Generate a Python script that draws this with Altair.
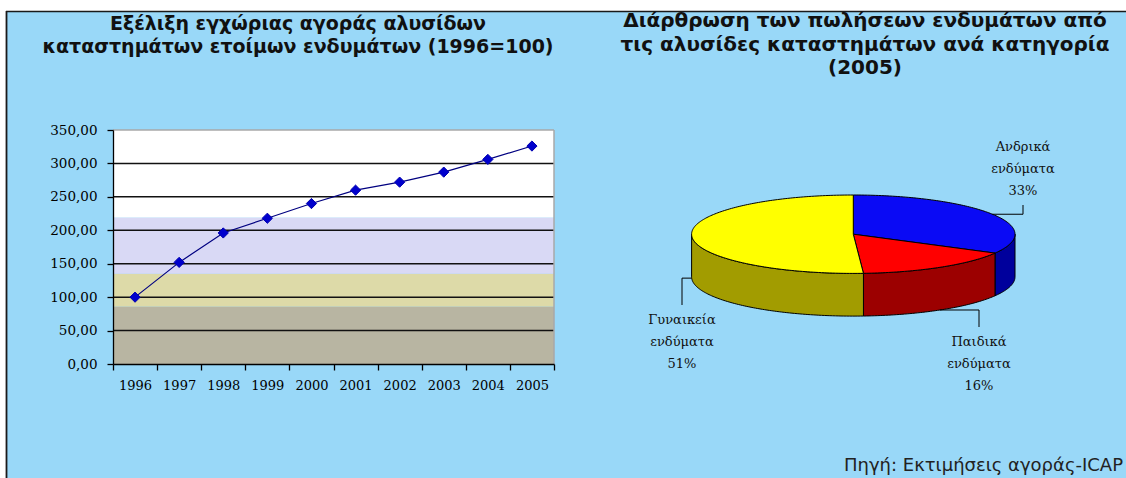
import math
import altair as alt
import pandas as pd

# ---------------- data ----------------
YEARS = ["1996", "1997", "1998", "1999", "2000", "2001", "2002", "2003", "2004", "2005"]
INDEX_VALUES = [100, 152, 196, 218, 240, 260, 272, 287, 306, 326]
Y_TICKS = [0, 50, 100, 150, 200, 250, 300, 350]
GRID_VALUES = [50, 100, 150, 200, 250, 300]
BAND_NAMES = ["low", "mid", "upper", "top"]
BAND_START = [0, 86, 135, 219]
BAND_END = [86, 135, 219, 350]

PIE_CATEGORIES = ["Ανδρικά", "Παιδικά", "Γυναικεία"]
PIE_SHARES = [33, 16, 51]
PIE_SUFFIX = "ενδύματα"

TITLE_LEFT = "Εξέλιξη εγχώριας αγοράς αλυσίδων\nκαταστημάτων ετοίμων ενδυμάτων (1996=100)"
TITLE_RIGHT = "Διάρθρωση των πωλήσεων ενδυμάτων από\nτις αλυσίδες καταστημάτων ανά κατηγορία\n(2005)"
SOURCE = "Πηγή: Εκτιμήσεις αγοράς-ICAP"

# ---------------- layout / style ----------------
CANVAS_W, CANVAS_H = 1126, 478
OX, OY = 113, 130          # plot-area origin (absolute px)
W, H = 441, 234            # plot-area size
BG = "#99D8F8"
BAND_COLORS = ["#B8B5A2", "#DDDAA8", "#D9D9F5", "#FFFFFF"]

# 3D pie geometry (absolute px)
CX, CY, RX, RY, DEPTH = 853.3, 234.2, 161.7, 39.2, 42.7
D_UNITS = DEPTH / RY
TOP_COLORS = ["#0A0AF5", "#FF0000", "#FFFF00"]
WALL_COLORS = ["#00009C", "#9C0000", "#A29C00"]
# label centre x, first-line centre y, leader end y (absolute px)
LABEL_POS = [(1023, 147, 205), (979, 342, 327), (682, 320, 305)]

SERIF = "DejaVu Serif"
SANS = "DejaVu Sans"


def ux(px):
    return (px - CX) / RX


def uy(py):
    return (CY - py) / RY


one = pd.DataFrame({"k": [0]})


def deco_rect(x0, x1, y0, y1, color):
    return alt.Chart(one).mark_rect(color=color, strokeWidth=0).encode(
        x=alt.value(x0 - OX), x2=alt.value(x1 - OX),
        y=alt.value(y0 - OY), y2=alt.value(y1 - OY))


def deco_rule(x0, x1, y0, y1, color, w):
    return alt.Chart(one).mark_rule(color=color, strokeWidth=w).encode(
        x=alt.value(x0 - OX), x2=alt.value(x1 - OX),
        y=alt.value(y0 - OY), y2=alt.value(y1 - OY))


def deco_text(text, x, y, size, weight="normal", align="center", font=SANS, lh=23.5, color="#111111"):
    return alt.Chart(one).mark_text(
        text=text, lineBreak="\n", lineHeight=lh, font=font, fontSize=size,
        fontWeight=weight, align=align, baseline="middle", color=color,
    ).encode(x=alt.value(x - OX), y=alt.value(y - OY))


# ---------------- line chart ----------------
yscale = alt.Scale(domain=[0, 350], nice=False, zero=True)
yaxis = alt.Axis(
    values=Y_TICKS, labelExpr="replace(format(datum.value, '.2f'), '.', ',')",
    title=None, grid=False, domainColor="black", domainWidth=1.3,
    tickColor="black", tickSize=6, tickWidth=1.3, labelPadding=10,
    labelFont=SERIF, labelFontSize=13.5, labelColor="black", zindex=1)
xscale = alt.Scale(type="band", domain=YEARS, paddingInner=0, paddingOuter=0)
xaxis = alt.Axis(
    title=None, labelAngle=0, tickBand="extent", grid=False,
    domainColor="black", domainWidth=1.3, tickColor="black", tickSize=6,
    tickWidth=1.3, labelPadding=9, labelFont=SERIF, labelFontSize=13,
    labelColor="black", zindex=1)

bands_df = pd.DataFrame({"band": BAND_NAMES, "start": BAND_START, "end": BAND_END})
bands = alt.Chart(bands_df).mark_rect(strokeWidth=0).encode(
    x=alt.value(0), x2=alt.value(W),
    y=alt.Y("start:Q", scale=yscale, axis=yaxis), y2="end:Q",
    color=alt.Color("band:N", scale=alt.Scale(domain=BAND_NAMES, range=BAND_COLORS), legend=None),
)
grid = alt.Chart(pd.DataFrame({"v": GRID_VALUES})).mark_rule(color="#111111", strokeWidth=1.5).encode(
    y=alt.Y("v:Q", scale=yscale, axis=yaxis), x=alt.value(0), x2=alt.value(W))

series = pd.DataFrame({"year": YEARS, "value": INDEX_VALUES})
line = alt.Chart(series).mark_line(color="#000080", strokeWidth=1.2).encode(
    x=alt.X("year:O", scale=xscale, axis=xaxis),
    y=alt.Y("value:Q", scale=yscale, axis=yaxis))
points = alt.Chart(series).mark_point(
    shape="diamond", filled=True, size=105, color="#0000CD", opacity=1,
    stroke="#0000B0", strokeWidth=1).encode(
    x=alt.X("year:O", scale=xscale, axis=xaxis),
    y=alt.Y("value:Q", scale=yscale, axis=yaxis))

border_top = alt.Chart(one).mark_rule(color="#A8A8A8", strokeWidth=1.5).encode(
    x=alt.value(0), x2=alt.value(W), y=alt.value(0))
border_right = alt.Chart(one).mark_rule(color="#A8A8A8", strokeWidth=1.5).encode(
    x=alt.value(W), y=alt.value(0), y2=alt.value(H))

left_group = alt.layer(bands, grid, border_top, border_right, line, points)

# ---------------- 3D pie ----------------
tops, walls, leaders, labels = [], [], [], []
start = 90.0
for i, (cat, share) in enumerate(zip(PIE_CATEGORIES, PIE_SHARES)):
    end = start - share * 3.6
    n = max(2, int(math.ceil(start - end)))
    pts = [(0.0, 0.0)]
    for k in range(n + 1):
        t = math.radians(start - (start - end) * k / n)
        pts.append((math.cos(t), math.sin(t)))
    pts.append((0.0, 0.0))
    for j, (px, py) in enumerate(pts):
        tops.append({"key": cat + " top", "seg": f"{i}t", "px": px, "py": py, "o": j})
    for shift in (0.0, -360.0):
        lo = max(end, -180.0 + shift)
        hi = min(start, 0.0 + shift)
        if hi - lo > 1e-9:
            m = max(2, int(math.ceil(hi - lo)))
            angs = [hi - (hi - lo) * k / m for k in range(m + 1)]
            ring = [(math.cos(math.radians(a)), math.sin(math.radians(a))) for a in angs]
            ring += [(math.cos(math.radians(a)), math.sin(math.radians(a)) - D_UNITS) for a in reversed(angs)]
            ring.append(ring[0])
            for j, (px, py) in enumerate(ring):
                walls.append({"key": cat + " wall", "seg": f"{i}w{int(shift)}", "px": px, "py": py, "o": j})
    mid = math.radians((start + end) / 2)
    rim_x, rim_y = math.cos(mid), math.sin(mid)
    if rim_y < 0:
        rim_y -= D_UNITS
    lx, ly, le = LABEL_POS[i]
    for j, (px, py) in enumerate([(rim_x, rim_y), (ux(lx), rim_y), (ux(lx), uy(le))]):
        leaders.append({"seg": cat, "px": px, "py": py, "o": j})
    labels.append({"txt": f"{cat}\n{PIE_SUFFIX}\n{share}%", "px": ux(lx), "py": uy(ly)})
    start = end

KEYS = [c + " top" for c in PIE_CATEGORIES] + [c + " wall" for c in PIE_CATEGORIES]
pie_color = alt.Scale(domain=KEYS, range=TOP_COLORS + WALL_COLORS)
pxs = alt.Scale(domain=[-1, 1], range=[CX - RX - OX, CX + RX - OX], nice=False, zero=False)
pys = alt.Scale(domain=[-1, 1], range=[CY + RY - OY, CY - RY - OY], nice=False, zero=False)


def poly(rows):
    return alt.Chart(pd.DataFrame(rows)).mark_line(
        filled=True, stroke="black", strokeWidth=1, strokeJoin="round").encode(
        x=alt.X("px:Q", scale=pxs, axis=None),
        y=alt.Y("py:Q", scale=pys, axis=None),
        order="o:Q", detail="seg:N",
        color=alt.Color("key:N", scale=pie_color, legend=None))


wall_layer = poly(walls)
top_layer = poly(tops)
leader_layer = alt.Chart(pd.DataFrame(leaders)).mark_line(color="black", strokeWidth=1).encode(
    x=alt.X("px:Q", scale=pxs, axis=None), y=alt.Y("py:Q", scale=pys, axis=None),
    order="o:Q", detail="seg:N")
label_layer = alt.Chart(pd.DataFrame(labels)).mark_text(
    lineBreak="\n", lineHeight=22, font=SERIF, fontSize=13, align="center",
    baseline="middle", color="#111111").encode(
    x=alt.X("px:Q", scale=pxs, axis=None), y=alt.Y("py:Q", scale=pys, axis=None),
    text="txt:N")

pie_group = alt.layer(wall_layer, top_layer, leader_layer, label_layer)

# ---------------- frame & texts ----------------
strip_top = deco_rect(0, CANVAS_W, 0, 11, "white")
strip_left = deco_rect(0, 6, 0, CANVAS_H, "white")
frame_top = deco_rule(6, CANVAS_W, 11.5, 11.5, "#1a1a1a", 1.6)
frame_left = deco_rule(6.5, 6.5, 11, CANVAS_H, "#1a1a1a", 1.8)
title_l = deco_text(TITLE_LEFT, 298, 23.5, 19, weight="bold")
title_r = deco_text(TITLE_RIGHT, 865, 21, 20, weight="bold")
source = deco_text(SOURCE, 1123, 466, 18, align="right", color="#222222")

chart = alt.layer(
    strip_top, strip_left, frame_top, frame_left, title_l, title_r, source,
    left_group, pie_group,
).resolve_scale(
    x="independent", y="independent", color="independent"
).properties(
    width=W, height=H,
    autosize=alt.AutoSizeParams(type="none"),
    padding={"left": OX, "top": OY, "right": CANVAS_W - OX - W, "bottom": CANVAS_H - OY - H},
).configure(background=BG).configure_view(stroke="transparent")

chart.save("out.html", embed_options={"renderer": "svg", "actions": False})
